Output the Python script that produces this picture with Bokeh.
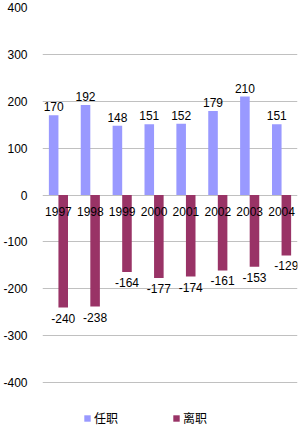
from bokeh.plotting import figure
from bokeh.models import (ColumnDataSource, FactorRange, Range1d, FixedTicker,
                          Legend, LegendItem)
from bokeh.transform import dodge
from bokeh.core.properties import value
from bokeh.embed import file_html
from bokeh.resources import INLINE

years = ["1997", "1998", "1999", "2000", "2001", "2002", "2003", "2004"]
appointed = [170, 192, 148, 151, 152, 179, 210, 151]      # 任职
departed = [-240, -238, -164, -177, -174, -161, -153, -129]  # 离职
y_ticks = [-400, -300, -200, -100, 0, 100, 200, 300, 400]
series_names = ["任职", "离职"]

BLUE = "#9999FF"
RED = "#993366"
FONT = "Liberation Sans"

src = ColumnDataSource(dict(
    year=years,
    a=appointed,
    d=departed,
    a_lbl=[str(v) for v in appointed],
    d_lbl=[str(v) for v in departed],
    zero=[0] * len(years),
))

p = figure(width=303, height=427, x_range=FactorRange(*years),
           y_range=Range1d(-496, 400), output_backend="svg",
           toolbar_location=None, min_border_left=33, min_border_right=6,
           min_border_top=7, min_border_bottom=0)

rb = p.vbar(x=dodge("year", -0.15, range=p.x_range), top="a", width=0.3,
            source=src, fill_color=BLUE, line_color=None)
rr = p.vbar(x=dodge("year", 0.15, range=p.x_range), top="d", width=0.3,
            source=src, fill_color=RED, line_color=None)

p.text(x=dodge("year", -0.15, range=p.x_range), y="a", text="a_lbl", source=src,
       text_align="center", text_baseline="bottom", y_offset=-4,
       text_font=value(FONT), text_font_size="12px", text_color="black")
p.text(x=dodge("year", 0.15, range=p.x_range), y="d", text="d_lbl", source=src,
       text_align="center", text_baseline="top", y_offset=6,
       text_font=value(FONT), text_font_size="12px", text_color="black")
p.text(x="year", y="zero", text="year", source=src,
       text_align="center", text_baseline="top", y_offset=12,
       text_font=value(FONT), text_font_size="12px", text_color="black")

p.xaxis.visible = False
p.xgrid.visible = False
p.ygrid.ticker = FixedTicker(ticks=y_ticks)
p.ygrid.grid_line_color = "#C0C0C0"
p.ygrid.grid_line_width = 1
p.yaxis.ticker = FixedTicker(ticks=y_ticks)
p.yaxis.major_label_overrides = {t: str(t) for t in y_ticks}
p.yaxis.axis_line_color = None
p.yaxis.major_tick_line_color = None
p.yaxis.minor_tick_line_color = None
p.yaxis.major_label_standoff = 9
p.yaxis.major_label_text_font = FONT
p.yaxis.major_label_text_font_size = "12px"
p.yaxis.major_label_text_color = "black"
p.outline_line_color = None
p.background_fill_color = "white"
p.border_fill_color = "white"

legend = Legend(items=[LegendItem(label=series_names[0], renderers=[rb]),
                       LegendItem(label=series_names[1], renderers=[rr])],
                orientation="horizontal", location=(41, 1),
                glyph_width=8, glyph_height=8, label_standoff=3,
                label_height=12, spacing=54, padding=0, margin=0,
                border_line_color=None, background_fill_alpha=0,
                label_text_font="Noto Sans CJK SC", label_text_font_size="12px",
                label_text_color="black")
p.add_layout(legend, "center")

open("out.html", "w").write(file_html(p, INLINE))
